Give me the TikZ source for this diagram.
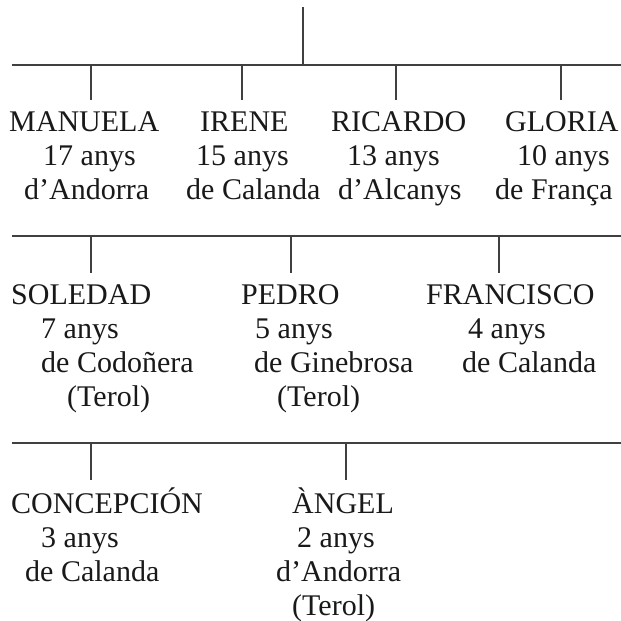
\documentclass[tikz,border=0pt]{standalone}
\usepackage{fontspec}
\setmainfont{Liberation Serif}
\usepackage{tikz}

\begin{document}
\begin{tikzpicture}[x=1pt, y=-1pt,
		name_style/.style={anchor=base west, inner sep=0pt, text=black!90, font=\fontsize{30}{34}\selectfont},
		line_style/.style={draw=black!75, line width=1.7pt}]

		\useasboundingbox (0,0) rectangle (621,621);

		% tree lines
		\coordinate (top) at (303,7);
		\coordinate (j1) at (303,65);
		\coordinate (l1a) at (12,65);
		\coordinate (l1b) at (621,65);
		\coordinate (l2a) at (12,236);
		\coordinate (l2b) at (621,236);
		\coordinate (l3a) at (12,443);
		\coordinate (l3b) at (621,443);

		\coordinate (d1a) at (91,65);   \coordinate (e1a) at (91,100);
		\coordinate (d1b) at (242,65);  \coordinate (e1b) at (242,100);
		\coordinate (d1c) at (396,65);  \coordinate (e1c) at (396,100);
		\coordinate (d1d) at (561,65);  \coordinate (e1d) at (561,100);
		\coordinate (d2a) at (91,236);  \coordinate (e2a) at (91,273);
		\coordinate (d2b) at (291,236); \coordinate (e2b) at (291,273);
		\coordinate (d2c) at (499,236); \coordinate (e2c) at (499,273);
		\coordinate (d3a) at (91,443);  \coordinate (e3a) at (91,480);
		\coordinate (d3b) at (346,443); \coordinate (e3b) at (346,480);

		\draw[line_style] (top) -- (j1);
		\draw[line_style] (l1a) -- (l1b);
		\draw[line_style] (l2a) -- (l2b);
		\draw[line_style] (l3a) -- (l3b);
		\draw[line_style] (d1a) -- (e1a);
		\draw[line_style] (d1b) -- (e1b);
		\draw[line_style] (d1c) -- (e1c);
		\draw[line_style] (d1d) -- (e1d);
		\draw[line_style] (d2a) -- (e2a);
		\draw[line_style] (d2b) -- (e2b);
		\draw[line_style] (d2c) -- (e2c);
		\draw[line_style] (d3a) -- (e3a);
		\draw[line_style] (d3b) -- (e3b);

		% first row
		\node[name_style] (manuela) at (9,131) {MANUELA};
		\node[name_style] (manuela_age) at (43,165) {17 anys};
		\node[name_style] (manuela_from) at (24,199) {d’Andorra};
		\node[name_style] (irene) at (200,131) {IRENE};
		\node[name_style] (irene_age) at (196,165) {15 anys};
		\node[name_style] (irene_from) at (186,199) {de Calanda};
		\node[name_style] (ricardo) at (331,131) {RICARDO};
		\node[name_style] (ricardo_age) at (347,165) {13 anys};
		\node[name_style] (ricardo_from) at (338,199) {d’Alcanys};
		\node[name_style] (gloria) at (505,131) {GLORIA};
		\node[name_style] (gloria_age) at (517,165) {10 anys};
		\node[name_style] (gloria_from) at (495,199) {de França};

		% second row
		\node[name_style] (soledad) at (11,304) {SOLEDAD};
		\node[name_style] (soledad_age) at (41,338) {7 anys};
		\node[name_style] (soledad_from) at (41,372) {de Codoñera};
		\node[name_style] (soledad_prov) at (67,406) {(Terol)};
		\node[name_style] (pedro) at (241,304) {PEDRO};
		\node[name_style] (pedro_age) at (255,338) {5 anys};
		\node[name_style] (pedro_from) at (254,372) {de Ginebrosa};
		\node[name_style] (pedro_prov) at (277,406) {(Terol)};
		\node[name_style] (francisco) at (426,304) {FRANCISCO};
		\node[name_style] (francisco_age) at (468,338) {4 anys};
		\node[name_style] (francisco_from) at (462,372) {de Calanda};

		% third row
		\node[name_style] (concepcion) at (11,513) {CONCEPCIÓN};
		\node[name_style] (concepcion_age) at (41,547) {3 anys};
		\node[name_style] (concepcion_from) at (25,581) {de Calanda};
		\node[name_style] (angel) at (292,513) {ÀNGEL};
		\node[name_style] (angel_age) at (297,547) {2 anys};
		\node[name_style] (angel_from) at (276,581) {d’Andorra};
		\node[name_style] (angel_prov) at (292,615) {(Terol)};

\end{tikzpicture}
\end{document}
